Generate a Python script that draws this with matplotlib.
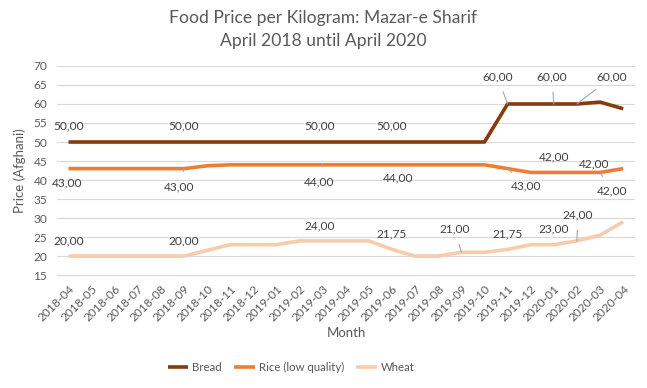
import matplotlib.pyplot as plt

months = ["2018-04", "2018-05", "2018-06", "2018-07", "2018-08", "2018-09",
          "2018-10", "2018-11", "2018-12", "2019-01", "2019-02", "2019-03",
          "2019-04", "2019-05", "2019-06", "2019-07", "2019-08", "2019-09",
          "2019-10", "2019-11", "2019-12", "2020-01", "2020-02", "2020-03",
          "2020-04"]
bread = [50, 50, 50, 50, 50, 50, 50, 50, 50, 50, 50, 50, 50,
         50, 50, 50, 50, 50, 50, 60, 60, 60, 60, 60.5, 58.75]
rice = [43, 43, 43, 43, 43, 43, 43.75, 44, 44, 44, 44, 44, 44,
        44, 44, 44, 44, 44, 44, 43, 42, 42, 42, 42, 43]
wheat = [20, 20, 20, 20, 20, 20, 21.5, 23, 23, 23, 24, 24, 24,
         24, 21.75, 20, 20, 21, 21, 21.75, 23, 23, 24, 25.5, 29]
series_names = ["Bread", "Rice (low quality)", "Wheat"]

# labelled points (month index per series)
bread_labels = [0, 5, 11, 14, 19, 21, 22]
rice_labels = [0, 5, 11, 14, 19, 21, 22, 23]
wheat_labels = [0, 5, 11, 14, 17, 19, 21, 22]

# label placement (pixel offsets, leader line on/off)
bread_offsets = [(0, 16, 0), (0, 16, 0), (-3, 16, 0), (0, 16, 0),
                 (-10, 27, 1), (-2, 27, 1), (35, 27, 1)]
rice_offsets = [(-1, -14, 0), (-5, -18, 1), (-4, -17, 1), (6, -13, 0),
                (18, -17, 1), (0, 16, 0), (17, 9, 0), (12, -18, 1)]
wheat_offsets = [(0, 15, 0), (0, 15, 0), (-3, 15, 0), (0, 16, 0),
                 (-7, 23, 1), (0, 16, 0), (0, 16, 0), (1, 26, 1)]

colors = ["#843C0C", "#ED7D31", "#F8CBAD"]
text_col = "#595959"
label_col = "#404040"

plt.rcParams["font.family"] = ["Lato", "DejaVu Sans"]

fig = plt.figure(figsize=(6.47, 3.88), dpi=100)
ax = fig.add_axes([0.088, 0.291, 0.893, 0.539])

x = list(range(len(months)))
all_series = [bread, rice, wheat]
all_labels = [bread_labels, rice_labels, wheat_labels]
all_offsets = [bread_offsets, rice_offsets, wheat_offsets]

for vals, name, c in zip(all_series, series_names, colors):
    ax.plot(x, vals, color=c, linewidth=2.6, label=name, solid_capstyle="butt", zorder=3)

for vals, idxs, offs in zip(all_series, all_labels, all_offsets):
    for i, (dx, dy, lead) in zip(idxs, offs):
        txt = f"{vals[i]:.2f}".replace(".", ",")
        props = dict(arrowstyle="-", color="#A6A6A6", lw=0.8, shrinkA=5, shrinkB=0) if lead else None
        ax.annotate(txt, (i, vals[i]), xytext=(dx, dy), textcoords="offset pixels",
                    ha="center", va="center", fontsize=8.6, color=label_col,
                    arrowprops=props, zorder=4)

ax.set_xlim(-0.5, len(months) - 0.5)
ax.set_ylim(15, 70)
ax.set_yticks(range(15, 71, 5))
ax.set_xticks(x)
ax.set_xticklabels(months, rotation=45, ha="right", rotation_mode="anchor")
ax.tick_params(axis="both", length=0, labelsize=8.6, labelcolor=text_col)
ax.tick_params(axis="x", pad=6)
ax.tick_params(axis="y", pad=7)
ax.grid(axis="y", color="#D9D9D9", linewidth=0.8)
ax.set_axisbelow(True)
for s in ["top", "right", "left"]:
    ax.spines[s].set_visible(False)
ax.spines["bottom"].set_color("#D9D9D9")

ax.set_ylabel("Price (Afghani)", fontsize=9.5, color=text_col, labelpad=5)
fig.text(0.536, 0.142, "Month", ha="center", va="center", fontsize=9.5, color=text_col)
fig.text(0.5, 0.953, "Food Price per Kilogram: Mazar-e Sharif", ha="center", va="center",
         fontsize=12.6, color=text_col)
fig.text(0.5, 0.894, "April 2018 until April 2020", ha="center", va="center",
         fontsize=12.6, color=text_col)

fig.legend(loc="center", bbox_to_anchor=(0.45, 0.052), ncol=3, frameon=False,
           fontsize=8.2, labelcolor=text_col, handlelength=1.8, columnspacing=1.1,
           handletextpad=0.35)

fig.savefig("out.png", dpi=100)
